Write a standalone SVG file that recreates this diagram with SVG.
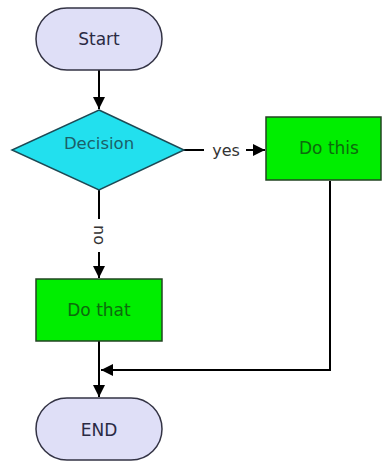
<svg xmlns="http://www.w3.org/2000/svg" width="382" height="461" viewBox="0 0 382 461">
  <style>
    .term { fill: #dfdff7; stroke: #333344; stroke-width: 1.5; }
    .proc { fill: #00ee00; stroke: #224422; stroke-width: 1.5; }
    .dec { fill: #22e0ee; stroke: #1d4a55; stroke-width: 1.5; }
    text { font-family: "DejaVu Sans", "Liberation Sans", sans-serif; font-size: 17px; text-anchor: middle; dominant-baseline: central; }
    .t-term { fill: #2a2a44; }
    .t-dec { fill: #1b5f68; font-size: 16.5px; }
    .t-proc { fill: #0d6a0d; }
    .lbl { fill: #333333; font-size: 16px; }
    .edge { fill: none; stroke: #000000; stroke-width: 2; }
  </style>
  <defs>
    <marker id="arrow" viewBox="0 0 10 10" refX="10" refY="5" markerWidth="6" markerHeight="6" orient="auto" markerUnits="strokeWidth">
      <path d="M0,0 L10,5 L0,10 z" fill="#000000"/>
    </marker>
  </defs>
  <rect width="382" height="461" fill="#ffffff"/>

  <g id="connectors">
    <line class="edge" x1="99" y1="70" x2="99" y2="109" marker-end="url(#arrow)"/>
    <line class="edge" x1="184" y1="150" x2="204" y2="150"/>
    <line class="edge" x1="246" y1="150" x2="265" y2="150" marker-end="url(#arrow)"/>
    <line class="edge" x1="99" y1="190" x2="99" y2="219"/>
    <line class="edge" x1="99" y1="252" x2="99" y2="278" marker-end="url(#arrow)"/>
    <line class="edge" x1="99" y1="341" x2="99" y2="397" marker-end="url(#arrow)"/>
    <polyline class="edge" points="330,181 330,370 101,370" marker-end="url(#arrow)"/>
    <text class="lbl" x="226" y="150">yes</text>
    <text class="lbl" x="99" y="235" transform="rotate(90 99 235)">no</text>
  </g>

  <g id="start">
    <rect class="term" x="36" y="8" width="126" height="62" rx="31" ry="31"/>
    <text class="t-term" x="99" y="39">Start</text>
  </g>

  <g id="decision">
    <polygon class="dec" points="99,110 184,150 99,190 12,150"/>
    <text class="t-dec" x="99" y="143">Decision</text>
  </g>

  <g id="do-this">
    <rect class="proc" x="266" y="117" width="115" height="63"/>
    <text class="t-proc" x="329" y="148">Do this</text>
  </g>

  <g id="do-that">
    <rect class="proc" x="36" y="279" width="126" height="62"/>
    <text class="t-proc" x="99" y="310">Do that</text>
  </g>

  <g id="end">
    <rect class="term" x="36" y="398" width="126" height="62" rx="31" ry="31"/>
    <text class="t-term" x="99" y="430">END</text>
  </g>
</svg>
